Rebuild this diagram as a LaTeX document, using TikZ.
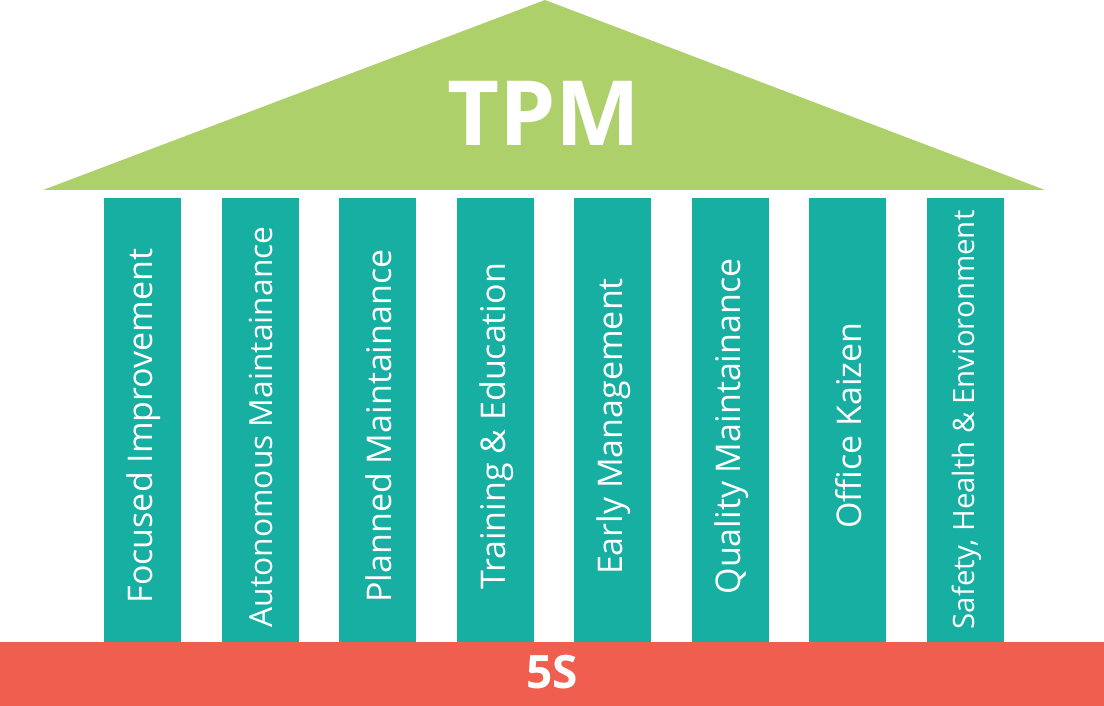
\documentclass[tikz,border=0pt]{standalone}
\usepackage{fontspec}
\setmainfont{Open Sans}
\definecolor{roofgreen}{HTML}{ADD06A}
\definecolor{pillarteal}{HTML}{16AFA2}
\definecolor{basered}{HTML}{EF5E4E}
\begin{document}
\begin{tikzpicture}[x=1pt,y=-1pt,
  pillar/.style={fill=pillarteal, draw=none},
  pillartext/.style={text=white, rotate=90, inner sep=0pt}]
\useasboundingbox (0,0) rectangle (1104,706);
\fill[roofgreen] (43,190) -- (545,0) -- (1045,190) -- cycle;
\node[text=white, font=\fontsize{90}{100}\selectfont\bfseries] (tpm) at (544,113) {TPM};
\foreach \i/\fs/\yc/\t in {0/34/426/Focused Improvement,1/31.8/427/Autonomous Maintainance,2/34/426/Planned Maintainance,3/34/426.5/Training \& Education,4/34/426.5/Early Management,5/34/426.5/Quality Maintainance,6/34/425.5/Office Kaizen,7/29.4/420/{Safety, Health \& Envioronment}} {
  \pgfmathsetmacro{\xl}{104+117.57*\i}
  \fill[pillar] (\xl,198) rectangle ++(77,444);
  \node[pillartext, font=\fontsize{\fs}{\fs}\selectfont] (p\i) at (\xl+38.5+1,\yc) {\t};
}
\fill[basered] (0,642) rectangle (1104,706);
\node[text=white, font=\fontsize{46}{50}\selectfont\bfseries] (fives) at (552,672) {5S};
\end{tikzpicture}
\end{document}
